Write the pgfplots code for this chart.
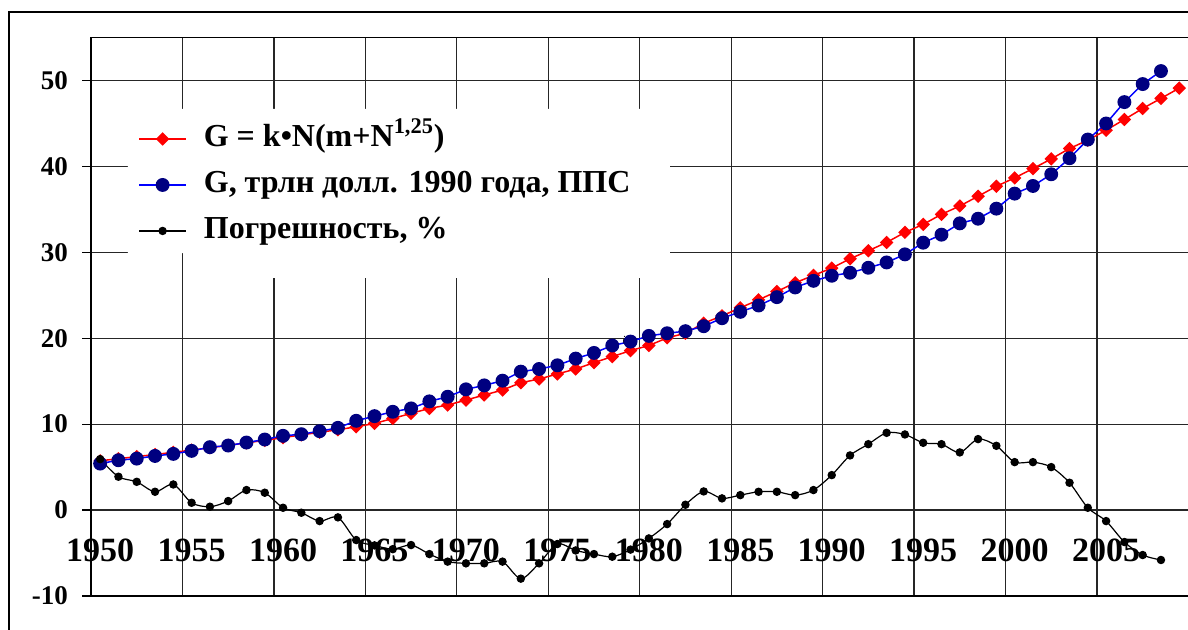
\documentclass[border=0pt]{standalone}
\usepackage{pgfplots}
\pgfplotsset{compat=1.18}
\usepackage{fontspec}
\setmainfont{Liberation Serif}
\definecolor{navyblue}{RGB}{0,0,128}
\definecolor{pureblue}{RGB}{0,0,255}
\definecolor{purered}{RGB}{255,0,0}

\pgfplotstableread{
year val
1950 5.73
1951 5.98
1952 6.22
1953 6.47
1954 6.72
1955 6.98
1956 7.25
1957 7.53
1958 7.82
1959 8.12
1960 8.43
1961 8.75
1962 9.05
1963 9.35
1964 9.69
1965 10.08
1966 10.66
1967 11.25
1968 11.83
1969 12.22
1970 12.80
1971 13.39
1972 13.97
1973 14.82
1974 15.25
1975 15.84
1976 16.42
1977 17.15
1978 17.86
1979 18.56
1980 19.15
1981 20.04
1982 20.58
1983 21.75
1984 22.60
1985 23.54
1986 24.47
1987 25.44
1988 26.45
1989 27.31
1990 28.16
1991 29.25
1992 30.18
1993 31.15
1994 32.32
1995 33.25
1996 34.42
1997 35.39
1998 36.52
1999 37.68
2000 38.66
2001 39.74
2002 40.87
2003 42.08
2004 43.05
2005 44.21
2006 45.46
2007 46.74
2008 47.91
2009 49.11
}\modeltable

\pgfplotstableread{
year val
1950 5.41
1951 5.80
1952 5.99
1953 6.30
1954 6.54
1955 6.89
1956 7.32
1957 7.51
1958 7.86
1959 8.21
1960 8.64
1961 8.83
1962 9.18
1963 9.57
1964 10.39
1965 10.93
1966 11.44
1967 11.83
1968 12.65
1969 13.19
1970 14.05
1971 14.51
1972 15.06
1973 16.11
1974 16.42
1975 16.85
1976 17.63
1977 18.29
1978 19.15
1979 19.61
1980 20.27
1981 20.58
1982 20.82
1983 21.40
1984 22.33
1985 23.07
1986 23.81
1987 24.78
1988 25.91
1989 26.68
1990 27.27
1991 27.62
1992 28.20
1993 28.82
1994 29.76
1995 31.12
1996 32.05
1997 33.37
1998 33.91
1999 35.08
2000 36.83
2001 37.72
2002 39.08
2003 40.95
2004 43.12
2005 44.99
2006 47.48
2007 49.58
2008 51.09
}\gdptable

\pgfplotstableread{
year val
1950 5.93
1951 3.88
1952 3.29
1953 2.13
1954 2.98
1955 0.85
1956 0.39
1957 1.05
1958 2.33
1959 2.02
1960 0.27
1961 -0.31
1962 -1.28
1963 -0.85
1964 -3.49
1965 -4.11
1966 -4.55
1967 -4.07
1968 -5.12
1969 -6.00
1970 -6.20
1971 -6.20
1972 -6.00
1973 -7.98
1974 -6.20
1975 -3.95
1976 -4.70
1977 -5.12
1978 -5.43
1979 -4.60
1980 -3.30
1981 -1.63
1982 0.62
1983 2.17
1984 1.36
1985 1.74
1986 2.13
1987 2.13
1988 1.74
1989 2.33
1990 4.07
1991 6.36
1992 7.67
1993 8.99
1994 8.80
1995 7.83
1996 7.67
1997 6.71
1998 8.26
1999 7.48
2000 5.58
2001 5.58
2002 5.00
2003 3.18
2004 0.27
2005 -1.28
2006 -3.72
2007 -5.23
2008 -5.81
}\errtable

\begin{document}
\begin{tikzpicture}[x=1pt,y=1pt]
\clip (0,0) rectangle (594,315);
\draw[line width=1pt] (4.5,-10) rectangle (620,309);
\begin{axis}[
  at={(45.5pt,17pt)}, anchor=south west,
  scale only axis, width=548.7pt, height=279.25pt,
  xmin=1949.5, xmax=2009.5, ymin=-10, ymax=55,
  xtick={1954.5,1959.5,1964.5,1969.5,1974.5,1979.5,1984.5,1989.5,1994.5,1999.5,2004.5},
  xticklabels={},
  xtick style={draw=none},
  extra x ticks={1950,1955,1960,1965,1970,1975,1980,1985,1990,1995,2000,2005},
  extra x tick labels={1950,1955,1960,1965,1970,1975,1980,1985,1990,1995,2000,2005},
  extra x tick style={grid=none, major tick length=0pt,
     xticklabel style={anchor=center, yshift=23pt, font=\fontsize{17}{18}\selectfont\bfseries}},
  ytick={-10,0,10,20,30,40,50},
  yticklabel style={font=\fontsize{13.5}{15}\selectfont\bfseries, xshift=-3.5pt},
  /pgf/number format/assume math mode=true,
  /pgf/number format/1000 sep={},
  tick align=outside,
  major tick length=4.5pt,
  ytick style={black, line width=0.6pt},
  xmajorgrids, ymajorgrids,
  major grid style={black!85, line width=0.6pt},
  axis line style={black, line width=0.9pt},
  clip=false,
  legend cell align=left,
  legend image code/.code={%
    \draw[mark repeat=2,mark phase=2,#1] plot coordinates {(0pt,0pt) (11.75pt,0pt) (23.5pt,0pt)};},
  legend style={at={(0.0428,0.845)}, anchor=north west, draw=none, fill=none,
     inner xsep=0pt, inner ysep=0pt, row sep=8.5pt, column sep=8.5pt,
     nodes={inner sep=0pt, text height=11pt, text depth=3.5pt},
     font=\fontsize{16}{17}\selectfont\bfseries},
]
\fill[white] (rel axis cs:0.0337,0.872) -- (rel axis cs:0.5276,0.872) -- (rel axis cs:0.5276,0.5694)
  -- (rel axis cs:0.0902,0.5694) -- (rel axis cs:0.0902,0.614) -- (rel axis cs:0.0337,0.614) -- cycle;
\addplot[purered, line width=0.75pt, mark=square*, mark size=2pt, mark options={rotate=45, fill=purered, draw=purered}]
  table[x=year, y=val] {\modeltable};
\addlegendentry{G = k•N(m+N\textsuperscript{1,25})}
\addplot[pureblue, line width=0.75pt, mark=*, mark size=3.1pt, mark options={fill=navyblue, draw=navyblue}]
  table[x=year, y=val] {\gdptable};
\addlegendentry{G, трлн долл. 1990 года, ППС}
\node[font=\fontsize{6.5}{7}\selectfont] at (axis cs:1978.72,19.76) {ё};
\addplot[black, line width=0.6pt, smooth, mark=*, mark size=1.8pt, mark options={fill=black}]
  table[x=year, y=val] {\errtable};
\addlegendentry{Погрешность, \%}
\end{axis}
\end{tikzpicture}
\end{document}
